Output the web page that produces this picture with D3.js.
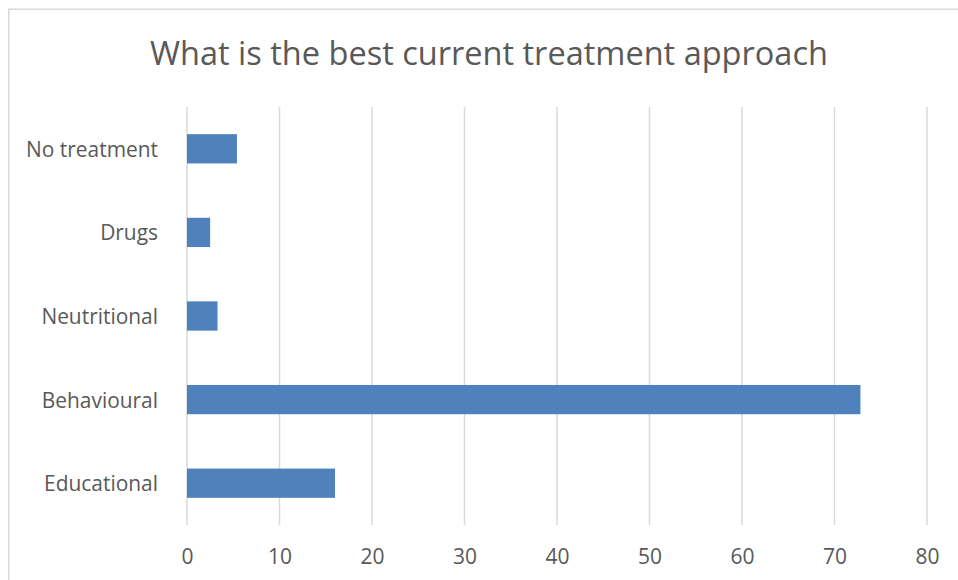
<!DOCTYPE html>
<html>
<head>
<meta charset="utf-8">
<script src="https://cdn.jsdelivr.net/npm/d3@7/dist/d3.min.js"></script>
<style>
  html, body { margin: 0; padding: 0; background: #ffffff; }
  svg { display: block; }
</style>
</head>
<body>
<svg id="chart" width="958" height="580"></svg>
<script>
// Survey answers: share of respondents per treatment approach
const categories = ["No treatment", "Drugs", "Neutritional", "Behavioural", "Educational"];
const values = [5.4, 2.5, 3.3, 72.8, 16.0];
const xTicks = [0, 10, 20, 30, 40, 50, 60, 70, 80];
const titleText = "What is the best current treatment approach";

const W = 958, H = 580;
const FONT = "'Open Sans', 'Noto Sans', sans-serif";
const svg = d3.select("#chart");

// chart frame (continues past the right and bottom edges)
svg.append("rect")
  .attr("x", 8.75).attr("y", 9.25)
  .attr("width", 1000).attr("height", 1000)
  .attr("fill", "#ffffff")
  .attr("stroke", "#d9d9d9").attr("stroke-width", 1.5);

const plot = { left: 187, right: 927, top: 107, bottom: 525 };

const x = d3.scaleLinear().domain([0, 80]).range([plot.left, plot.right]);
const y = d3.scaleBand().domain(categories)
  .range([plot.top, plot.bottom])
  .paddingInner(0.65).paddingOuter(0.325);

// helper: pick a font size so the string spans a given width
function fitSize(text, width, weight) {
  const t = svg.append("text").attr("font-family", FONT)
    .attr("font-size", 100).attr("font-weight", weight || 400).text(text);
  const w = t.node().getComputedTextLength();
  t.remove();
  return 100 * width / w;
}

// vertical gridlines
svg.append("g").selectAll("line")
  .data(xTicks)
  .join("line")
  .attr("x1", d => x(d)).attr("x2", d => x(d))
  .attr("y1", plot.top).attr("y2", plot.bottom)
  .attr("stroke", "#d9d9d9").attr("stroke-width", 1.5);

// bars
svg.append("g").selectAll("rect")
  .data(categories.map((c, i) => ({ c, v: values[i] })))
  .join("rect")
  .attr("x", x(0))
  .attr("y", d => y(d.c))
  .attr("width", d => x(d.v) - x(0))
  .attr("height", y.bandwidth())
  .attr("fill", "#4f81bd");

// category axis labels
const labelSize = fitSize("No treatment", 132);
const yAxis = d3.axisLeft(y).tickSize(0).tickPadding(0);
const gy = svg.append("g").attr("transform", `translate(158,0)`).call(yAxis);
gy.select(".domain").remove();
gy.selectAll("text")
  .attr("font-family", FONT).attr("font-size", labelSize)
  .attr("fill", "#595959").attr("dy", "0.38em");

// value axis labels
const xAxis = d3.axisBottom(x).tickValues(xTicks).tickSize(0).tickPadding(0);
const gx = svg.append("g").attr("transform", `translate(0,564)`).call(xAxis);
gx.select(".domain").remove();
gx.selectAll("text")
  .attr("font-family", FONT).attr("font-size", fitSize("80", 24))
  .attr("fill", "#595959").attr("dy", 0);

// title
svg.append("text")
  .attr("x", (150 + 828) / 2).attr("y", 64.5)
  .attr("text-anchor", "middle")
  .attr("font-family", FONT).attr("font-weight", 400)
  .attr("font-size", fitSize(titleText, 678, 400))
  .attr("fill", "#595959")
  .text(titleText);
</script>
</body>
</html>
